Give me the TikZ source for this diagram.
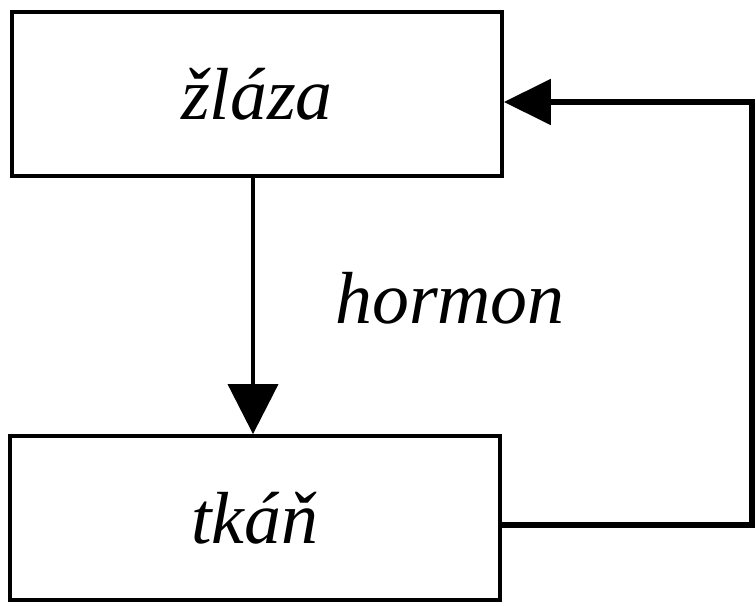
\documentclass[tikz,border=0pt]{standalone}
\usepackage{fontspec}
\setmainfont{Liberation Serif}
\usetikzlibrary{arrows.meta, positioning}

\begin{document}
\begin{tikzpicture}[x=0.02cm, y=-0.02cm, font=\fontsize{42}{48}\selectfont\itshape]
        \tikzstyle{block} = [rectangle, draw, line width=2.2pt, minimum width=9.8cm, minimum height=3.28cm, inner sep=0pt]
        \tikzstyle{line} = [line width=2.2pt, -{Triangle[length=1cm, width=1cm]}]
        \tikzstyle{back} = [line width=3pt, -{Triangle[length=0.94cm, width=0.9cm]}]
        \useasboundingbox (0,0) rectangle (756,605);
        \node (zla) [block] at (257,94) {žláza};
        \node (tka) [block] at (255,518) {tkáň};
        \node (hor) [anchor=base] at (450,323) {hormon};
        \coordinate (ret) at (752,300);

        \draw [line] (zla.south -| 253,0) -- (tka.north -| 253,0);
        \draw [back] ([yshift=-0.14cm]tka.east) -| (ret) |- ([yshift=-0.16cm]zla.east);
    \end{tikzpicture}
\end{document}
